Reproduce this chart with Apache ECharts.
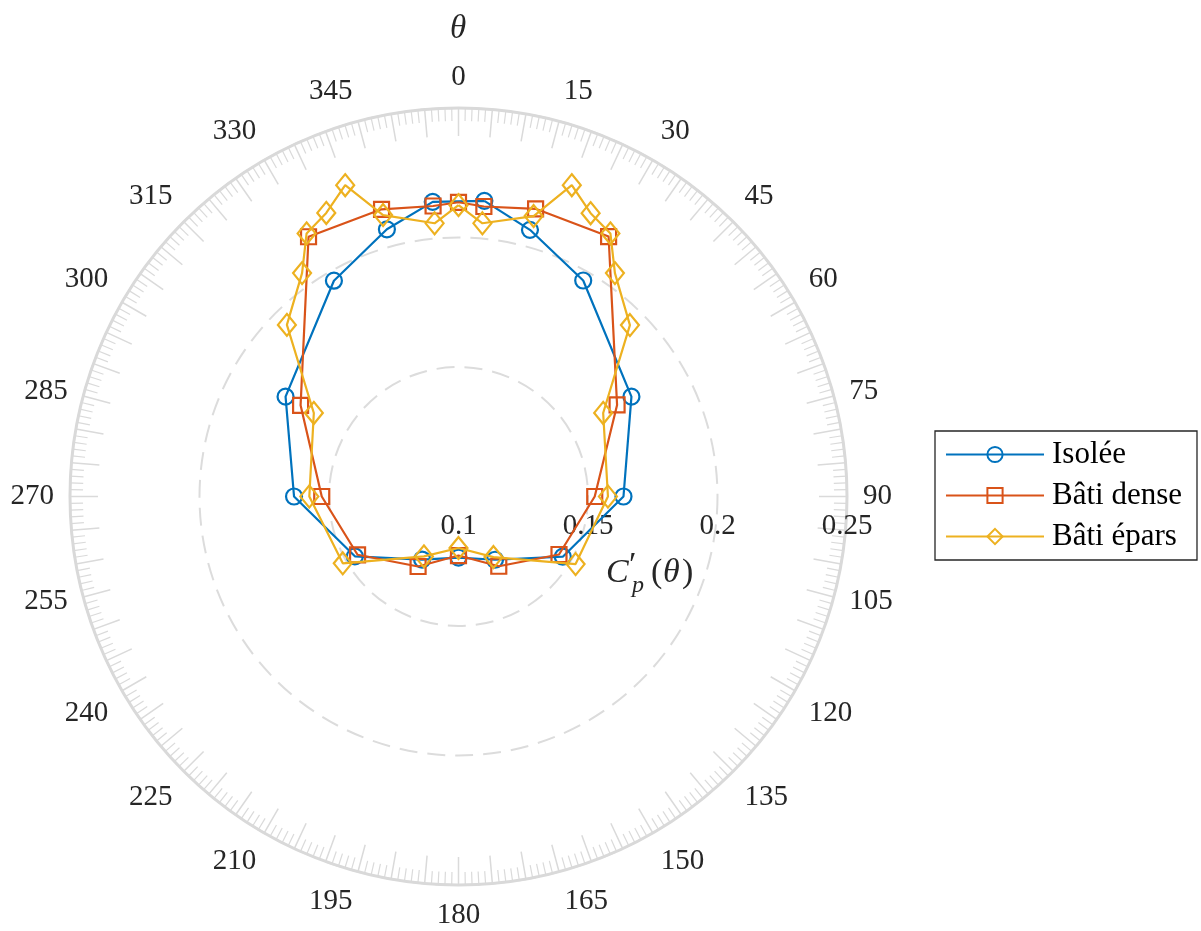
<!DOCTYPE html>
<html><head><meta charset="utf-8">
<script src="https://cdn.jsdelivr.net/npm/echarts@6/dist/echarts.min.js"></script>
<style>html,body{margin:0;padding:0;background:#fff}#c{width:1201px;height:931px}</style>
</head><body><div id="c"></div>
<script>
// ---- data (angle in degrees, value C'p) ----
const seriesNames = ['Isolée', 'Bâti dense', 'Bâti épars'];
const isoleeAngles = [5, 15, 30, 60, 90, 120, 150, 180, 210, 240, 270, 300, 330, 345, 355];
const isoleeValues = [0.2146, 0.2066, 0.1963, 0.1771, 0.1637, 0.1465, 0.1282, 0.1236, 0.1281, 0.1462, 0.1635, 0.1771, 0.1962, 0.2068, 0.2142];
const denseAngles = [0, 5, 15, 30, 60, 90, 120, 150, 180, 210, 240, 270, 300, 330, 345, 355];
const denseValues = [0.2136, 0.2124, 0.2150, 0.2159, 0.1707, 0.1526, 0.1448, 0.1311, 0.1228, 0.1312, 0.1450, 0.1528, 0.1704, 0.2158, 0.2148, 0.2126];
const eparsAngles = [0, 5, 15, 20, 25, 30, 35, 45, 60, 90, 120, 150, 180, 210, 240, 270, 300, 315, 325, 330, 335, 340, 345, 355];
const eparsValues = [0.2125, 0.2059, 0.2121, 0.2279, 0.2207, 0.2173, 0.2053, 0.1936, 0.1645, 0.1577, 0.1522, 0.1270, 0.1199, 0.1267, 0.1516, 0.1576, 0.1645, 0.1937, 0.2053, 0.2173, 0.2208, 0.2279, 0.2125, 0.2059];
const radiusTicks = [0.1, 0.15, 0.2, 0.25];
const angleLabelStep = 15;

const FONT = '"Liberation Serif", "DejaVu Serif", serif';
const CX = 458.5, CY = 496.5, R = 388.5;
const colors = ['#0072BD', '#D95319', '#EDB120'];
const symbols = ['circle', 'rect', 'diamond'];
const symbolSizes = [16, 15, [18, 22]];
const LBL = {fontSize: 29, fontFamily: FONT, color: '#262626'};

function closed(vals, angs) {
  const d = vals.map((v, i) => [v, angs[i]]);
  d.push({value: [vals[0], angs[0]], symbol: 'none'});
  return d;
}
const dataSets = [closed(isoleeValues, isoleeAngles), closed(denseValues, denseAngles), closed(eparsValues, eparsAngles)];

// labels near top/bottom are anchored by their inner edge (as in the reference)
function angleLabel(v) {
  if (v % angleLabelStep !== 0 || v >= 360) return '';
  const s = String(v);
  if (v === 15 || v === 165) return '{l' + s.length + '|' + s + '}';
  if (v === 345 || v === 195) return '{r' + s.length + '|' + s + '}';
  return s;
}

const chart = echarts.init(document.getElementById('c'), null, {renderer: 'canvas'});
const option = {
  animation: false,
  backgroundColor: '#fff',
  polar: [
    {center: [CX, CY], radius: R},
    {center: [CX, CY], radius: R}
  ],
  angleAxis: [
    {
      polarIndex: 0, type: 'value', min: 0, max: 360, interval: 5, startAngle: 90, clockwise: true,
      axisLine: {show: true, lineStyle: {color: '#d9d9d9', width: 3}},
      axisTick: {show: true, inside: true, length: 28, lineStyle: {color: '#dadada', width: 1.5}},
      minorTick: {show: true, splitNumber: 5, length: 13, lineStyle: {color: '#dadada', width: 1.2}},
      splitLine: {show: false}, minorSplitLine: {show: false},
      axisLabel: Object.assign({
        margin: 16, formatter: angleLabel,
        rich: {
          l2: Object.assign({padding: [0, 0, 0, 30]}, LBL),
          l3: Object.assign({padding: [0, 0, 0, 46]}, LBL),
          r3: Object.assign({padding: [0, 46, 0, 0]}, LBL)
        }
      }, LBL)
    },
    {polarIndex: 1, type: 'value', min: 0, max: 360, startAngle: 0, clockwise: true,
     axisLine: {show: false}, axisTick: {show: false}, axisLabel: {show: false}, splitLine: {show: false}}
  ],
  radiusAxis: [
    {
      polarIndex: 0, type: 'value', min: radiusTicks[0], max: radiusTicks[radiusTicks.length - 1], interval: 0.05,
      axisLine: {show: false}, axisTick: {show: false}, axisLabel: {show: false},
      splitLine: {show: true, lineStyle: {color: '#dcdcdc', width: 2, type: [18, 10]}}
    },
    {
      polarIndex: 1, type: 'value', min: radiusTicks[0], max: radiusTicks[radiusTicks.length - 1], interval: 0.05,
      axisLine: {show: false}, axisTick: {show: false}, splitLine: {show: false},
      axisLabel: Object.assign({show: true, margin: -30, verticalAlign: 'middle', align: 'center',
        formatter: v => String(+v.toFixed(2))}, LBL)
    }
  ],
  legend: {
    orient: 'vertical', left: 935, top: 431, padding: [8, 15, 8, 10], itemGap: 10,
    itemWidth: 98, itemHeight: 19, borderColor: '#262626', borderWidth: 1.3, backgroundColor: '#fff',
    textStyle: {fontFamily: FONT, fontSize: 31, color: '#000', padding: [0, 0, 0, 3]},
    data: seriesNames
  },
  series: seriesNames.map((name, i) => ({
    type: 'line', name, coordinateSystem: 'polar', polarIndex: 0,
    data: dataSets[i], symbol: symbols[i], symbolSize: symbolSizes[i], showAllSymbol: true,
    lineStyle: {color: colors[i], width: 2.2},
    itemStyle: {color: 'rgba(255,255,255,0)', borderColor: colors[i], borderWidth: 2.2},
    emphasis: {disabled: true}, z: 3 + i
  })),
  graphic: [
    {type: 'text', x: 458, y: 29, style: {text: 'θ', font: 'italic 33px ' + FONT, fill: '#262626', align: 'center', verticalAlign: 'middle'}},
    {type: 'group', x: 606, y: 573, children: [
      {type: 'text', x: 0, y: 0, style: {text: 'C', font: 'italic 34px ' + FONT, fill: '#262626', verticalAlign: 'middle'}},
      {type: 'text', x: 23, y: -7, style: {text: '′', font: '34px ' + FONT, fill: '#262626', verticalAlign: 'middle'}},
      {type: 'text', x: 26, y: 13, style: {text: 'p', font: 'italic 24px ' + FONT, fill: '#262626', verticalAlign: 'middle'}},
      {type: 'text', x: 45, y: 0, style: {text: '(', font: '34px ' + FONT, fill: '#262626', verticalAlign: 'middle'}},
      {type: 'text', x: 57, y: 0, style: {text: 'θ', font: 'italic 34px ' + FONT, fill: '#262626', verticalAlign: 'middle'}},
      {type: 'text', x: 76, y: 0, style: {text: ')', font: '34px ' + FONT, fill: '#262626', verticalAlign: 'middle'}}
    ]}
  ]
};
chart.setOption(option);
</script>
</body></html>
